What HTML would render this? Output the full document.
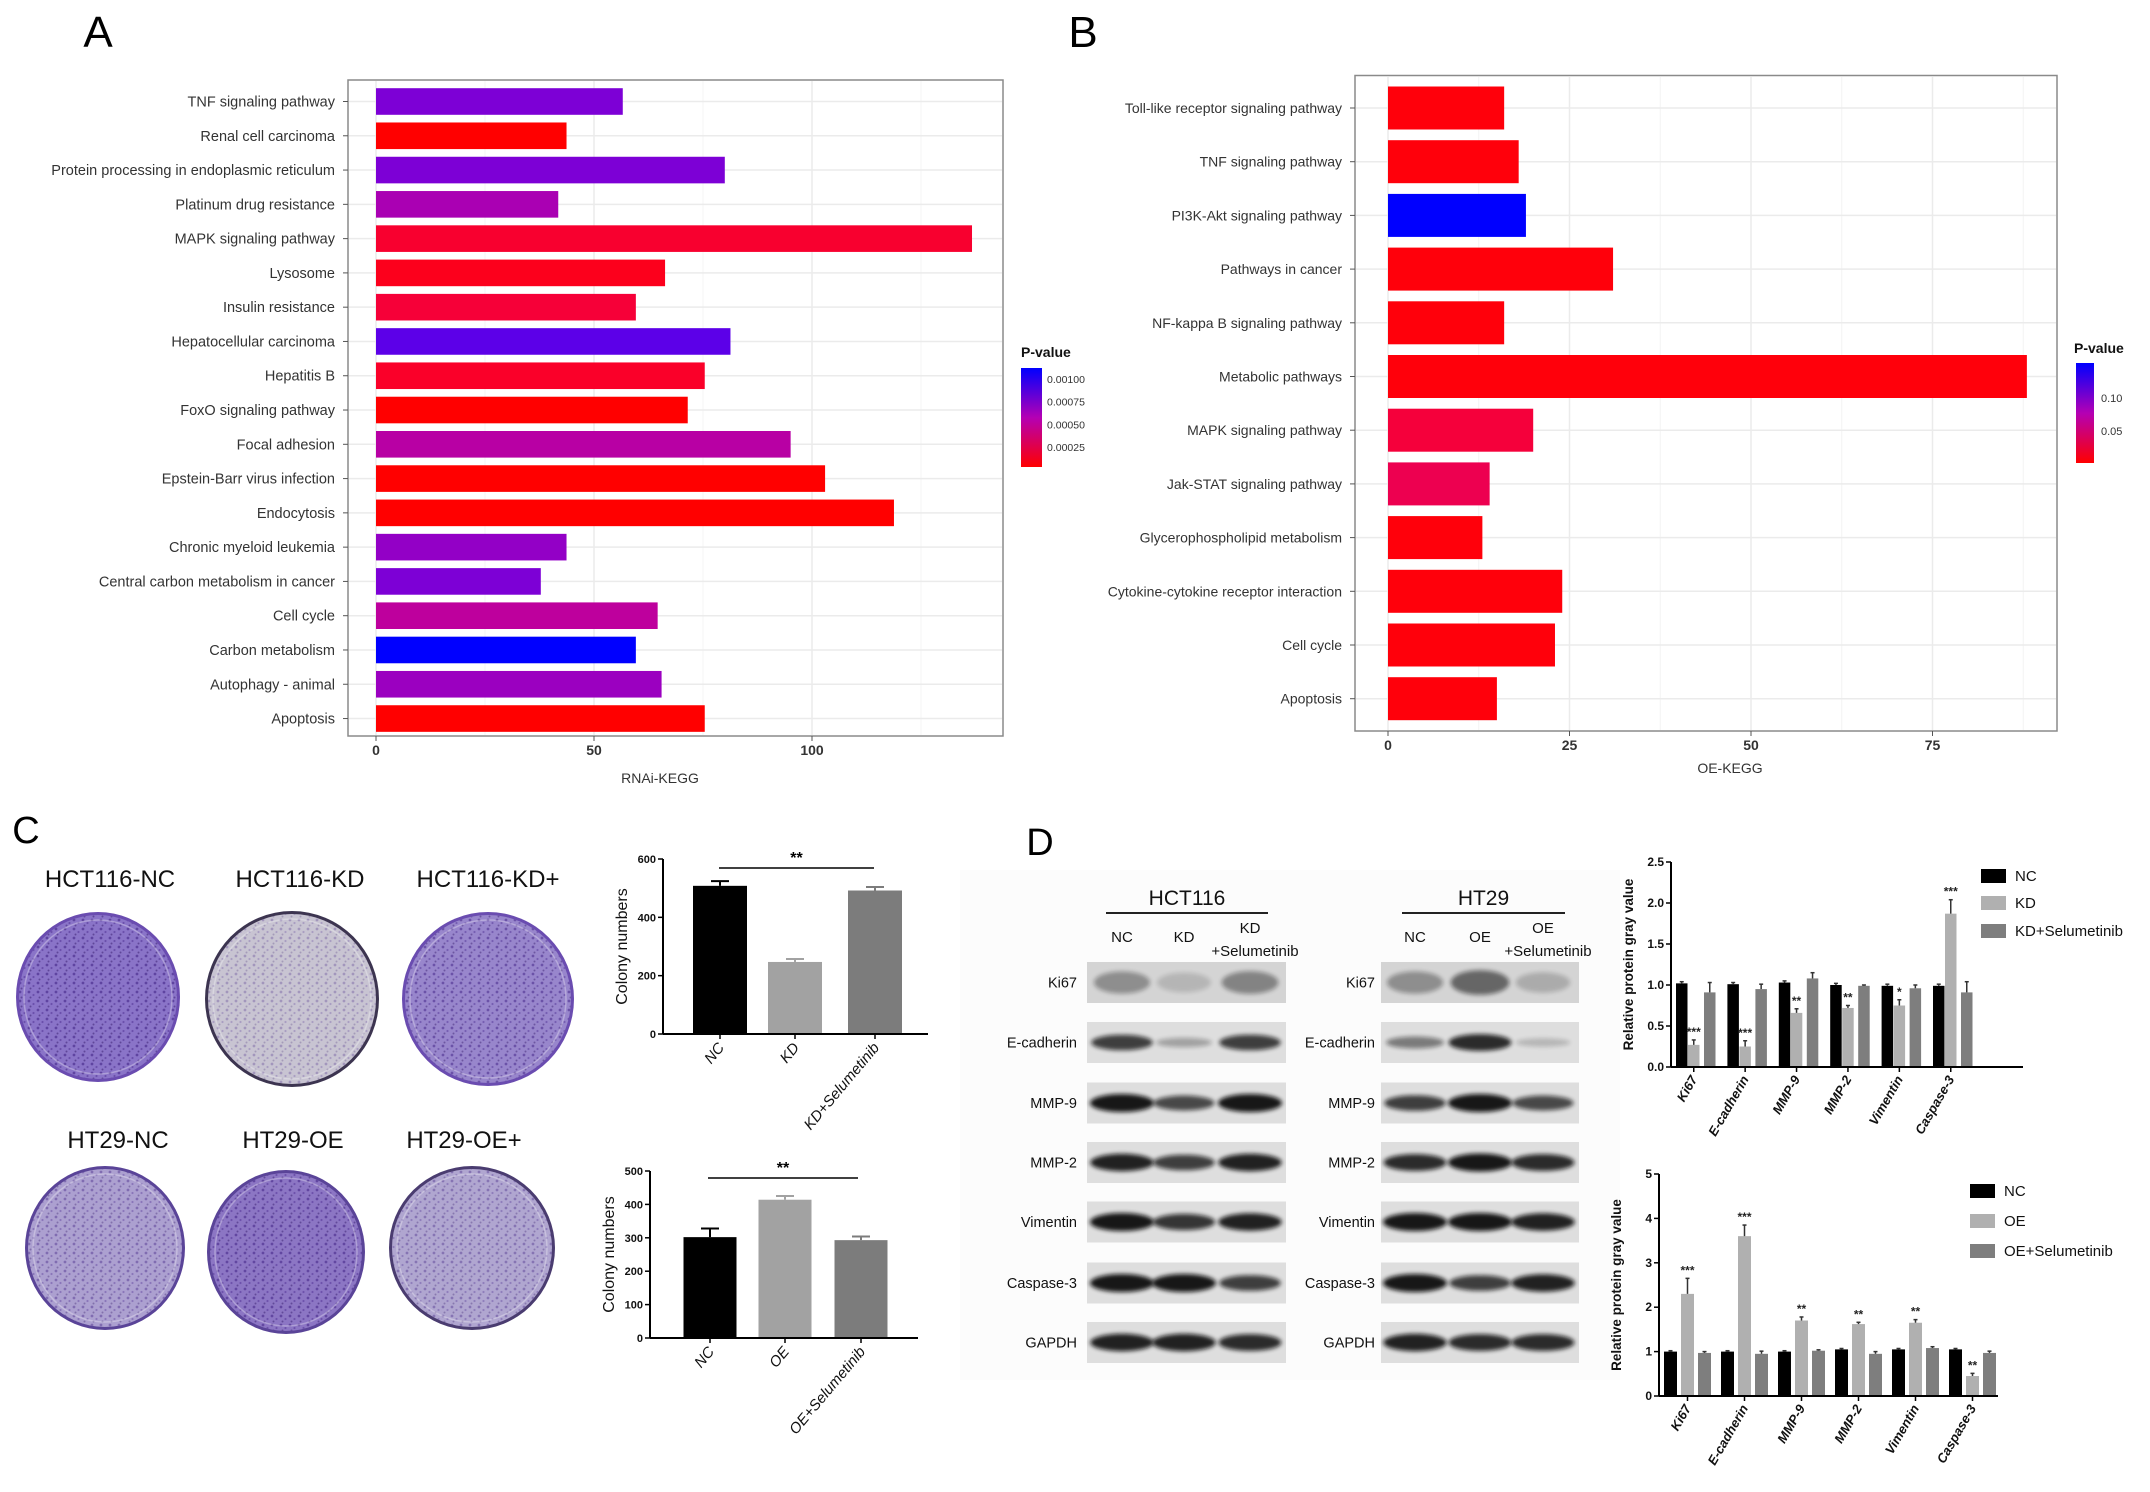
<!DOCTYPE html>
<html><head><meta charset="utf-8"><style>
html,body{margin:0;padding:0;background:#fff;}
svg{display:block;font-family:"Liberation Sans",Arial,sans-serif;}
</style></head><body>
<svg id="fig" width="2150" height="1492" viewBox="0 0 2150 1492" xmlns="http://www.w3.org/2000/svg">
<defs>
<pattern id="speck" width="9" height="9" patternUnits="userSpaceOnUse">
<circle cx="2" cy="2" r="1.4" fill="#3a1a80" opacity="0.6"/>
<circle cx="6.5" cy="5" r="1.1" fill="#4a2a90" opacity="0.55"/>
<circle cx="3.5" cy="7.5" r="1" fill="#2a1060" opacity="0.5"/>
</pattern>
<filter id="blur1" x="-20%" y="-50%" width="140%" height="200%"><feGaussianBlur stdDeviation="2.2"/></filter>
<linearGradient id="gradA" x1="0" y1="0" x2="0" y2="1"><stop offset="0" stop-color="#0000ff"/><stop offset="0.5" stop-color="#b400b4"/><stop offset="1" stop-color="#ff0000"/></linearGradient>
<linearGradient id="gradB" x1="0" y1="0" x2="0" y2="1"><stop offset="0" stop-color="#0000ff"/><stop offset="0.5" stop-color="#b400b4"/><stop offset="1" stop-color="#ff0000"/></linearGradient>
</defs>
</svg>
<script>
// ---------- Panel A data ----------
const aCats = ["TNF signaling pathway","Renal cell carcinoma","Protein processing in endoplasmic reticulum","Platinum drug resistance","MAPK signaling pathway","Lysosome","Insulin resistance","Hepatocellular carcinoma","Hepatitis B","FoxO signaling pathway","Focal adhesion","Epstein-Barr virus infection","Endocytosis","Chronic myeloid leukemia","Central carbon metabolism in cancer","Cell cycle","Carbon metabolism","Autophagy - animal","Apoptosis"];
const aVals = [56.6,43.7,80,41.8,136.7,66.3,59.6,81.3,75.4,71.5,95.1,103,118.8,43.7,37.8,64.6,59.6,65.5,75.4];
const aP = [0.00082,0.00003,0.00082,0.0006,0.00008,0.00005,0.0001,0.00095,0.00007,0.00003,0.00052,0.00002,0.00003,0.00072,0.00082,0.00048,0.00112,0.00068,0.00002];
const aTicks = [0,50,100];
const aLegTicks = ["0.00100","0.00075","0.00050","0.00025"];
const aLegVals = [0.001,0.00075,0.0005,0.00025];
// ---------- Panel B data ----------
const bCats = ["Toll-like receptor signaling pathway","TNF signaling pathway","PI3K-Akt signaling pathway","Pathways in cancer","NF-kappa B signaling pathway","Metabolic pathways","MAPK signaling pathway","Jak-STAT signaling pathway","Glycerophospholipid metabolism","Cytokine-cytokine receptor interaction","Cell cycle","Apoptosis"];
const bVals = [16,18,19,31,16,88,20,14,13,24,23,15];
const bP = [0.002,0.002,0.153,0.002,0.002,0.002,0.012,0.02,0.002,0.002,0.002,0.002];
const bTicks = [0,25,50,75];
const bLegTicks = ["0.10","0.05"];
const bLegVals = [0.10,0.05];
// ---------- Panel C data ----------
const c1Cats = ["NC","KD","KD+Selumetinib"];
const c1Vals = [508,247,492];
const c1Err = [16,10,12];
const c1Ticks = [0,200,400,600];
const c2Cats = ["NC","OE","OE+Selumetinib"];
const c2Vals = [302,414,293];
const c2Err = [26,11,11];
const c2Ticks = [0,100,200,300,400,500];
// ---------- Panel D data ----------
const dCats = ["Ki67","E-cadherin","MMP-9","MMP-2","Vimentin","Caspase-3"];
const d1Series = ["NC","KD","KD+Selumetinib"];
const d1NC = [1.02,1.01,1.03,1.0,0.99,0.99];
const d1KD = [0.27,0.25,0.66,0.72,0.75,1.87];
const d1Sel = [0.91,0.95,1.08,0.99,0.96,0.91];
const d1KDErr = [0.06,0.07,0.05,0.03,0.07,0.17];
const d1SelErr = [0.12,0.06,0.07,0.01,0.04,0.13];
const d1Stars = ["***","***","**","**","*","***"];
const d1Ticks = ["0.0","0.5","1.0","1.5","2.0","2.5"];
const d2Series = ["NC","OE","OE+Selumetinib"];
const d2NC = [1,1,1,1.05,1.05,1.05];
const d2OE = [2.3,3.6,1.7,1.62,1.65,0.45];
const d2Sel = [0.97,0.95,1.02,0.95,1.08,0.97];
const d2OEErr = [0.35,0.25,0.08,0.04,0.07,0.06];
const d2SelErr = [0.03,0.06,0.02,0.05,0.03,0.04];
const d2Stars = ["***","***","**","**","**","**"];
const d2Ticks = ["0","1","2","3","4","5"];
const blotRows = ["Ki67","E-cadherin","MMP-9","MMP-2","Vimentin","Caspase-3","GAPDH"];
const blotHCT = [[0.35,0.15,0.4],[0.8,0.3,0.8],[1,0.75,1],[0.95,0.8,0.95],[1,0.85,0.95],[1,1,0.8],[0.95,0.95,0.9]];
const blotHT = [[0.35,0.55,0.2],[0.5,0.9,0.2],[0.8,1,0.75],[0.9,1,0.9],[1,1,0.95],[1,0.8,0.95],[0.95,0.9,0.9]];

const NS = "http://www.w3.org/2000/svg";
const svg = document.getElementById('fig');
function mk(tag, attrs, parent){
  const e = document.createElementNS(NS, tag);
  for (const k in attrs) e.setAttribute(k, attrs[k]);
  (parent||svg).appendChild(e);
  return e;
}
function txt(s, attrs, parent){ const e = mk('text', attrs, parent); e.textContent = s; return e; }
function pcol(t){ t=Math.max(0,Math.min(1,t)); const r=Math.round(255*Math.pow(1-t,0.55)), b=Math.round(255*Math.pow(t,0.55)); return `rgb(${r},0,${b})`; }

// ================= PANEL A =================
const gA = mk('g',{});


let t = txt("A",{x:98,y:47,'font-size':44,'text-anchor':'middle'},gA);


const xA = v => 376 + v*(218/50);
const yA = i => 101.5 + i*34.28;
let r = mk('rect',{x:348,y:80,width:655,height:656,fill:'#fff',stroke:'#8a8a8a','stroke-width':1.5},gA);


[25,75,125].forEach(v=>{ let l=mk('line',{x1:xA(v),x2:xA(v),y1:81,y2:735,stroke:'#f4f4f4','stroke-width':1},gA);   });
aTicks.forEach(v=>{ let l=mk('line',{x1:xA(v),x2:xA(v),y1:81,y2:735,stroke:'#ebebeb','stroke-width':1.5},gA);   });
aCats.forEach((c,i)=>{ let l=mk('line',{x1:349,x2:1002,y1:yA(i),y2:yA(i),stroke:'#ebebeb','stroke-width':1.5},gA);   });
aCats.forEach((c,i)=>{
  const b = mk('rect',{x:xA(0),y:yA(i)-13.3,width:xA(aVals[i])-xA(0),height:26.6,fill:pcol((aP[i]-0.00003)/(0.00112-0.00003))},gA);
  
  
  const lb = txt(c,{x:335,y:yA(i)+5,'font-size':14.5,'text-anchor':'end',fill:'#333'},gA);
  
  
  mk('line',{x1:343,x2:348,y1:yA(i),y2:yA(i),stroke:'#555'},gA);
});
aTicks.forEach(v=>{
  const lb = txt(String(v),{x:xA(v),y:755,'font-size':14,'font-weight':'bold','text-anchor':'middle',fill:'#333'},gA);
  
  
  mk('line',{x1:xA(v),x2:xA(v),y1:736,y2:741,stroke:'#555'},gA);
});
t = txt("RNAi-KEGG",{x:660,y:783,'font-size':14,'text-anchor':'middle',fill:'#333'},gA);


t = txt("P-value",{x:1021,y:357,'font-size':14,'font-weight':'bold',fill:'#111'},gA);


r = mk('rect',{x:1021,y:368,width:21,height:99,fill:'url(#gradA)'},gA);


const yLegA = p => 368 + (0.00112-p)/(0.00112-0.00003)*99;
aLegTicks.forEach((s,i)=>{
  const lb = txt(s,{x:1047,y:yLegA(aLegVals[i])+4,'font-size':10.5,fill:'#333'},gA);
  
  
});

// ================= PANEL B =================
const gB = mk('g',{});


t = txt("B",{x:1083,y:47,'font-size':44,'text-anchor':'middle'},gB);


const xB = v => 1388 + v*(181.5/25);
const yB = i => 108 + i*53.7;
r = mk('rect',{x:1355,y:75.5,width:702,height:655.5,fill:'#fff',stroke:'#8a8a8a','stroke-width':1.5},gB);


[12.5,37.5,62.5,87.5].forEach(v=>{ let l=mk('line',{x1:xB(v),x2:xB(v),y1:77,y2:730,stroke:'#f4f4f4'},gB);   });
bTicks.forEach(v=>{ let l=mk('line',{x1:xB(v),x2:xB(v),y1:77,y2:730,stroke:'#ebebeb','stroke-width':1.5},gB);   });
bCats.forEach((c,i)=>{ let l=mk('line',{x1:1356,x2:2056,y1:yB(i),y2:yB(i),stroke:'#ebebeb','stroke-width':1.5},gB);   });
bCats.forEach((c,i)=>{
  const b = mk('rect',{x:xB(0),y:yB(i)-21.5,width:xB(bVals[i])-xB(0),height:43,fill:pcol((bP[i]-0.0015)/(0.153-0.0015))},gB);
  
  
  const lb = txt(c,{x:1342,y:yB(i)+5,'font-size':14,'text-anchor':'end',fill:'#333'},gB);
  
  
  mk('line',{x1:1350,x2:1355,y1:yB(i),y2:yB(i),stroke:'#555'},gB);
});
bTicks.forEach(v=>{
  const lb = txt(String(v),{x:xB(v),y:750,'font-size':14,'font-weight':'bold','text-anchor':'middle',fill:'#333'},gB);
  
  
  mk('line',{x1:xB(v),x2:xB(v),y1:731,y2:736,stroke:'#555'},gB);
});
t = txt("OE-KEGG",{x:1730,y:773,'font-size':14,'text-anchor':'middle',fill:'#333'},gB);


t = txt("P-value",{x:2074,y:353,'font-size':14,'font-weight':'bold',fill:'#111'},gB);


r = mk('rect',{x:2076,y:363,width:18,height:100,fill:'url(#gradB)'},gB);


const yLegB = p => 363 + (0.153-p)/(0.153-0.0015)*100;
bLegTicks.forEach((s,i)=>{
  const lb = txt(s,{x:2101,y:yLegB(bLegVals[i])+4,'font-size':11,fill:'#333'},gB);
  
  
});

// ================= PANEL C =================
const gC = mk('g',{});


t = txt("C",{x:26,y:843,'font-size':38,'text-anchor':'middle'},gC);


const dishTitles = ["HCT116-NC","HCT116-KD","HCT116-KD+","HT29-NC","HT29-OE","HT29-OE+"];
const dishPos = [[98,997,82,85,'#8a74c8',0.9,'#6a4cb0'],[292,999,87,88,'#c8c4d2',0.45,'#3c3450'],[488,999,86,87,'#9886cc',0.8,'#6a4cb0'],[105,1248,80,82,'#aca0d0',0.65,'#5a4498'],[286,1252,79,82,'#8c76c4',0.85,'#5a4498'],[472,1248,83,82,'#b0a6d0',0.6,'#4a3c70']];
const titlePos = [[110,887],[300,887],[488,887],[118,1148],[293,1148],[464,1148]];
dishTitles.forEach((s,i)=>{
  const tl = txt(s,{x:titlePos[i][0],y:titlePos[i][1],'font-size':24,'text-anchor':'middle',fill:'#111'},gC);
  
  
  const d = dishPos[i];
  const g = mk('g',{},gC);
  
  
  mk('ellipse',{cx:d[0],cy:d[1],rx:d[2],ry:d[3],fill:d[6]},g);
  mk('ellipse',{cx:d[0],cy:d[1],rx:d[2]-3,ry:d[3]-3,fill:d[4]},g);
  mk('ellipse',{cx:d[0],cy:d[1],rx:d[2]-3,ry:d[3]-3,fill:'url(#speck)',opacity:d[5]},g);
  mk('ellipse',{cx:d[0],cy:d[1],rx:d[2]-8,ry:d[3]-8,fill:'none',stroke:'#ffffff','stroke-opacity':0.3,'stroke-width':1.5},g);
});
function colonyChart(cats, vals, errs, ticks, y0, pxPerUnit, axX, axEnd, centers, bw, sig, name){
  const g = mk('g',{},gC);
  
  
  const yv = v => y0 - v*pxPerUnit;
  const cols = ['#000','#a2a2a2','#7c7c7c'];
  cats.forEach((c,i)=>{
    const b = mk('rect',{x:centers[i]-bw/2,y:yv(vals[i]),width:bw,height:yv(0)-yv(vals[i]),fill:cols[i]},g);
    
    
    mk('line',{x1:centers[i],x2:centers[i],y1:yv(vals[i]),y2:yv(vals[i]+errs[i]),stroke:cols[i],'stroke-width':2},g);
    mk('line',{x1:centers[i]-9,x2:centers[i]+9,y1:yv(vals[i]+errs[i]),y2:yv(vals[i]+errs[i]),stroke:cols[i],'stroke-width':2},g);
    const lb = txt(c,{x:0,y:0,'font-size':15,'font-style':'italic','text-anchor':'end',fill:'#111',transform:`translate(${centers[i]+5},${y0+14}) rotate(-50)`},g);
    
    
    mk('line',{x1:centers[i],x2:centers[i],y1:y0,y2:y0+5,stroke:'#000','stroke-width':1.5},g);
  });
  mk('line',{x1:axX,x2:axX,y1:yv(ticks[ticks.length-1]),y2:y0,stroke:'#000','stroke-width':2},g);
  mk('line',{x1:axX,x2:axEnd,y1:y0,y2:y0,stroke:'#000','stroke-width':2},g);
  ticks.forEach(v=>{
    mk('line',{x1:axX-5,x2:axX,y1:yv(v),y2:yv(v),stroke:'#000','stroke-width':1.5},g);
    const lb = txt(String(v),{x:axX-7,y:yv(v)+4,'font-size':11,'font-weight':'bold','text-anchor':'end',fill:'#111'},g);
    
    
  });
  const ymid = (yv(ticks[ticks.length-1])+y0)/2;
  const yt = txt("Colony numbers",{x:0,y:0,'font-size':16,'text-anchor':'middle',fill:'#111',transform:`translate(${axX-36},${ymid}) rotate(-90)`},g);
  
  
  const sl = mk('line',{x1:sig[0],x2:sig[1],y1:sig[2],y2:sig[2],stroke:'#000','stroke-width':1.5},g);
  
  
  const st = txt("**",{x:(sig[0]+sig[1])/2,y:sig[2]-5,'font-size':16,'font-weight':'bold','text-anchor':'middle'},g);
  
  
}
colonyChart(c1Cats,c1Vals,c1Err,c1Ticks,1034,175/600,663,928,[720,795,875],54,[719,874,868],'colony-chart-hct116');
colonyChart(c2Cats,c2Vals,c2Err,c2Ticks,1338,167/500,650,918,[710,785,861],53,[708,858,1178],'colony-chart-ht29');

// ================= PANEL D =================
const gD = mk('g',{});


t = txt("D",{x:1040,y:855,'font-size':38,'text-anchor':'middle'},gD);


mk('rect',{x:960,y:870,width:660,height:510,fill:'#fcfcfc'},gD);
const rowY = [982.5,1042.5,1103,1162.5,1222,1283,1342.5];
function blotSet(x0,x1,lanes,data,labelX,hdr,lineX,cols,name){
  const g = mk('g',{},gD);
  
  
  const h = txt(hdr,{x:(lineX[0]+lineX[1])/2,y:905,'font-size':21,'text-anchor':'middle',fill:'#111'},g);
  
  
  mk('line',{x1:lineX[0],x2:lineX[1],y1:913,y2:913,stroke:'#222','stroke-width':2},g);
  cols.forEach((c,i)=>{
    const ct = txt(c[0],{x:lanes[i],y:c[1],'font-size':15,'text-anchor':'middle',fill:'#111'},g);
    
    
    if(c[2]){ const c2=txt(c[2],{x:lanes[i]+5,y:956,'font-size':15,'text-anchor':'middle',fill:'#111'},g);   }
  });
  blotRows.forEach((rn,ri)=>{
    const cy = rowY[ri];
    const box = mk('rect',{x:x0,y:cy-20.5,width:x1-x0,height:41,fill: ri===0?'#d4d4d4':'#dedede'},g);
    
    
    lanes.forEach((lx,li)=>{
      const v = data[ri][li];
      const band = mk('ellipse',{cx:lx,cy:cy,rx:26+v*6,ry:ri===0?9+v*6:3+v*6,fill:'#111',opacity:ri===0?v:v*0.95,filter:'url(#blur1)'},g);
      
      
    });
    const lb = txt(rn,{x:labelX,y:cy+5,'font-size':14.5,'text-anchor':'end',fill:'#111'},g);
    
    
  });
}
blotSet(1087,1286,[1122,1184,1250],blotHCT,1077,"HCT116",[1106,1268],[["NC",942],["KD",942],["KD",933,"+Selumetinib"]],'blot-hct116');
blotSet(1381,1579,[1415,1480,1543],blotHT,1375,"HT29",[1402,1565],[["NC",942],["OE",942],["OE",933,"+Selumetinib"]],'blot-ht29');

function groupChart(series, nc, mid, sel, midErr, selErr, stars, ticks, y0, ppu, axX, axEnd, gStart, gStep, bw, offs, legY, legX, name){
  const g = mk('g',{},gD);
  
  
  const yv = v => y0 - v*ppu;
  const cols = ['#000','#b0b0b0','#7e7e7e'];
  const vals = [nc,mid,sel];
  const errs = [nc.map(()=>0.02),midErr,selErr];
  dCats.forEach((c,gi)=>{
    const gx = gStart + gi*gStep;
    for(let k=0;k<3;k++){
      const v = vals[k][gi];
      const b = mk('rect',{x:gx+offs[k],y:yv(v),width:bw,height:yv(0)-yv(v),fill:cols[k]},g);
      
      
      const cx = gx+offs[k]+bw/2;
      mk('line',{x1:cx,x2:cx,y1:yv(v),y2:yv(v+errs[k][gi]),stroke:'#333','stroke-width':1.5},g);
      mk('line',{x1:cx-2,x2:cx+2,y1:yv(v+errs[k][gi]),y2:yv(v+errs[k][gi]),stroke:'#333','stroke-width':1.5},g);
    }
    const sx = gx+offs[1]+bw/2;
    const st = txt(stars[gi],{x:sx,y:yv(mid[gi]+midErr[gi])-4,'font-size':12,'font-weight':'bold','text-anchor':'middle',fill:'#222'},g);
    
    
    const lb = txt(c,{x:0,y:0,'font-size':13,'font-weight':'bold','font-style':'italic','text-anchor':'end',fill:'#111',transform:`translate(${sx+4},${y0+12}) rotate(-60)`},g);
    
    
    mk('line',{x1:sx,x2:sx,y1:y0,y2:y0+5,stroke:'#000','stroke-width':1.5},g);
  });
  const top = yv(Number(ticks[ticks.length-1]));
  mk('line',{x1:axX,x2:axX,y1:top,y2:y0,stroke:'#000','stroke-width':2},g);
  mk('line',{x1:axX,x2:axEnd,y1:y0,y2:y0,stroke:'#000','stroke-width':2},g);
  ticks.forEach(s=>{
    const v = Number(s);
    mk('line',{x1:axX-5,x2:axX,y1:yv(v),y2:yv(v),stroke:'#000','stroke-width':1.5},g);
    const lb = txt(s,{x:axX-7,y:yv(v)+4,'font-size':12,'font-weight':'bold','text-anchor':'end',fill:'#111'},g);
    
    
  });
  const yt = txt("Relative protein gray value",{x:0,y:0,'font-size':13.5,'font-weight':'bold','text-anchor':'middle',fill:'#111',transform:`translate(${axX-38},${(top+y0)/2}) rotate(-90)`},g);
  
  
  series.forEach((s,k)=>{
    const sq = mk('rect',{x:legX,y:legY[k]-7,width:25,height:14,fill:cols[k]},g);
    
    
    const lt = txt(s,{x:legX+34,y:legY[k]+5,'font-size':15,fill:'#111'},g);
    
    
  });
}
groupChart(d1Series,d1NC,d1KD,d1Sel,d1KDErr,d1SelErr,d1Stars,d1Ticks,1067,82,1671,2023,1676,51.4,11.5,[0,12,28],[876,903,931],1981,'bar-chart-hct116');
groupChart(d2Series,d2NC,d2OE,d2Sel,d2OEErr,d2SelErr,d2Stars,d2Ticks,1396,44.4,1659,1998,1664,57,13,[0,17,34],[1191,1221,1251],1970,'bar-chart-ht29');
</script>
</body></html>
